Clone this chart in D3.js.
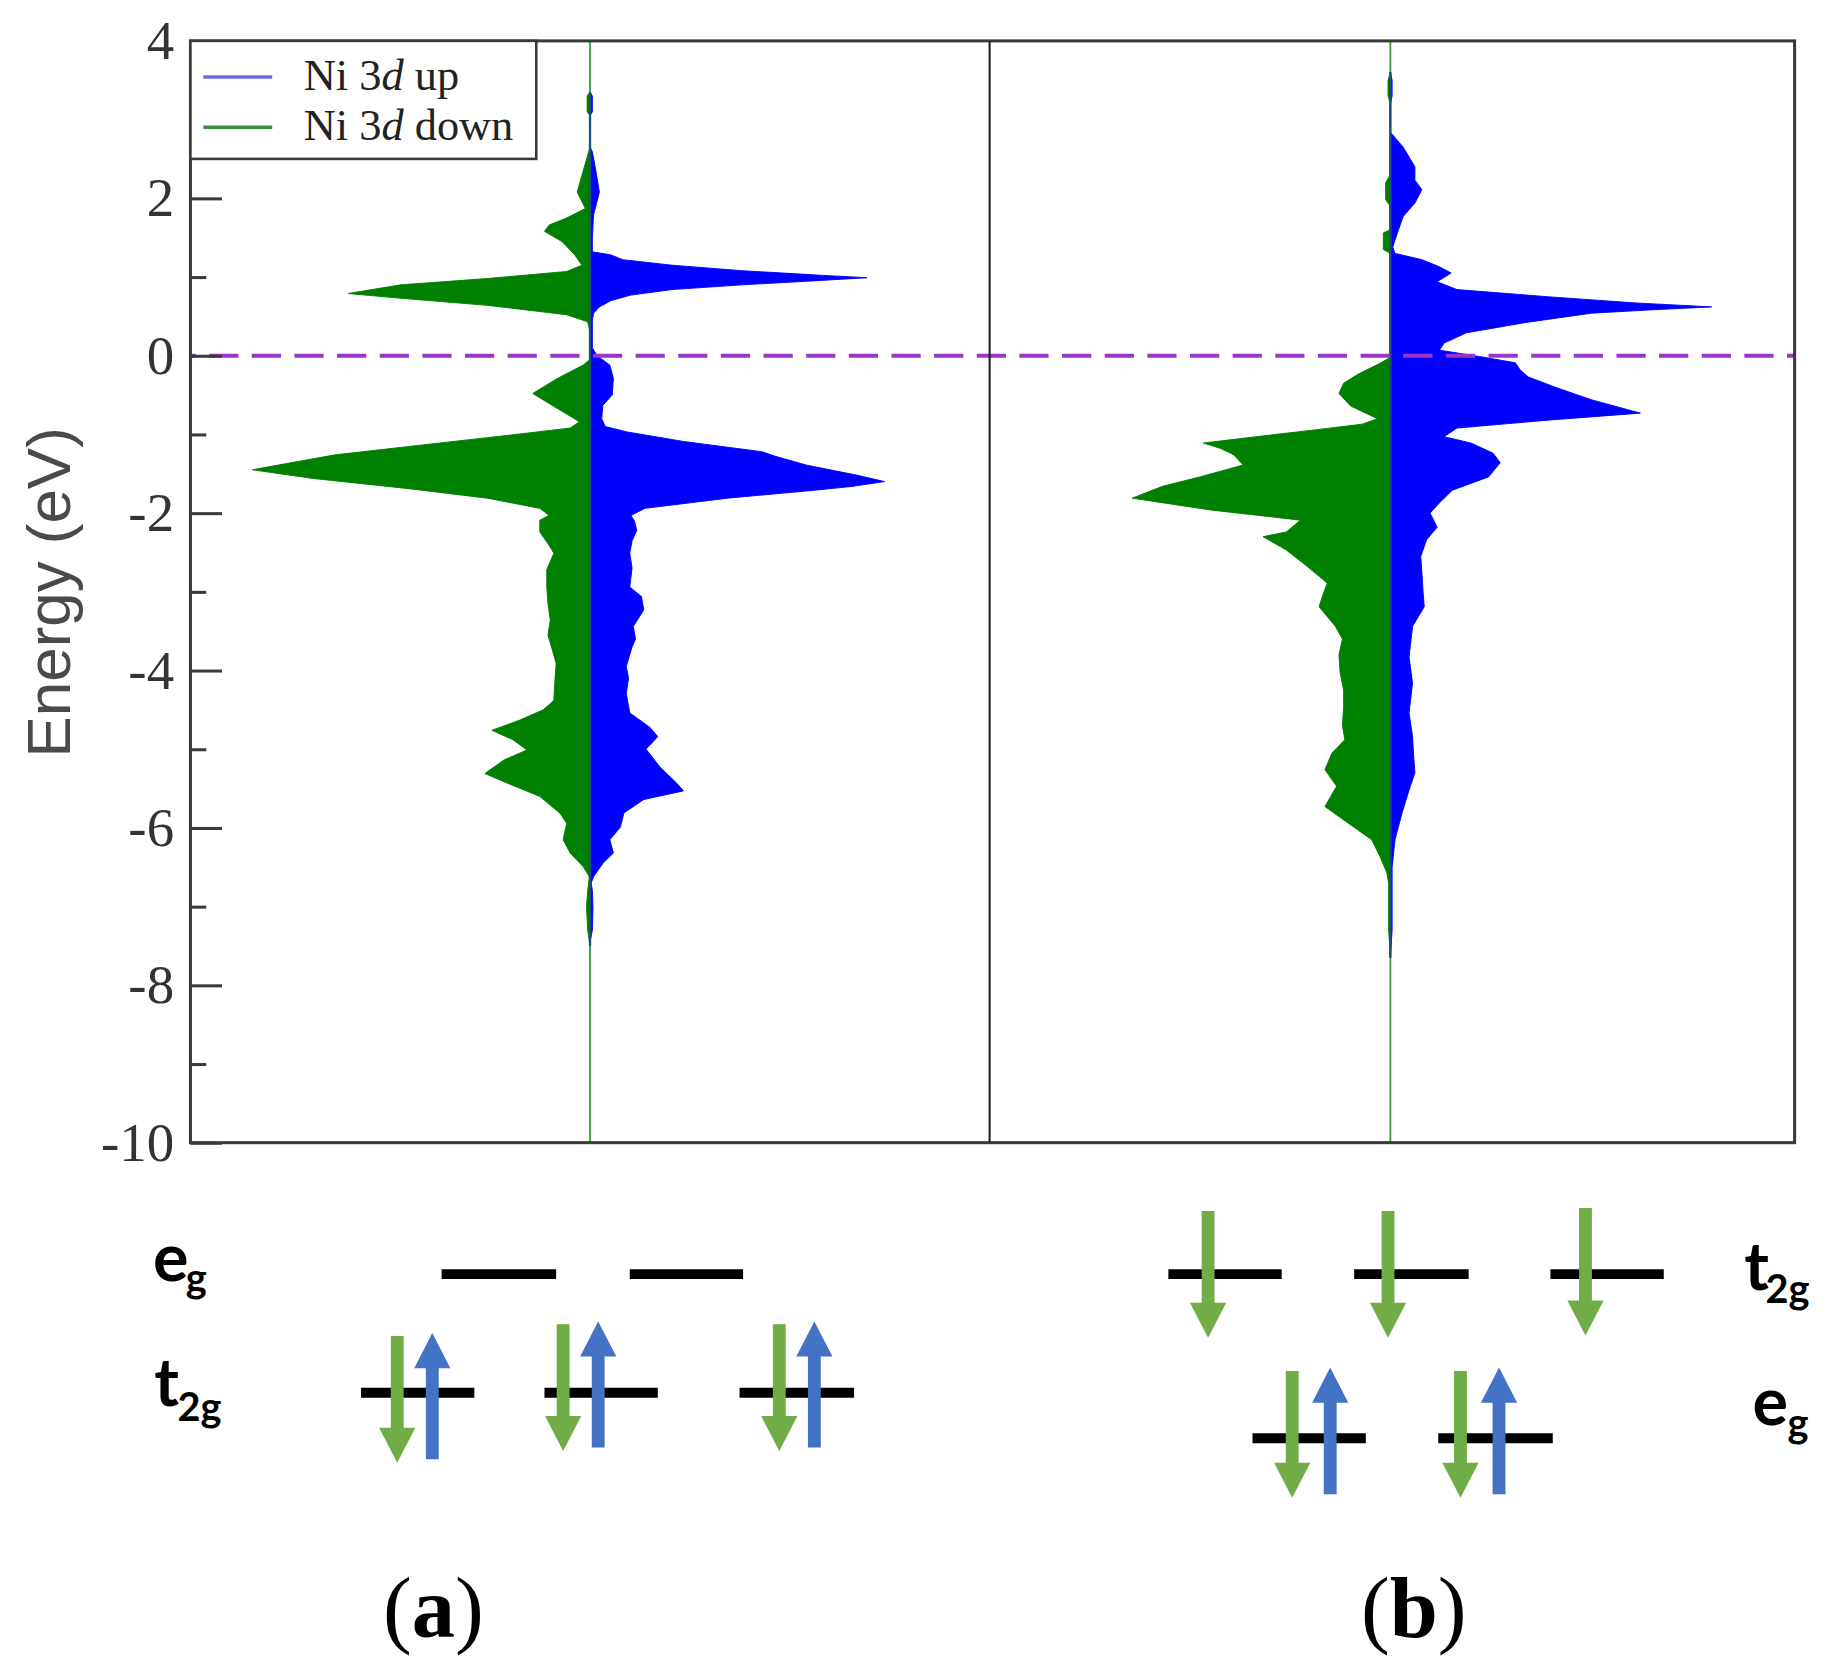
<!DOCTYPE html>
<html><head><meta charset="utf-8">
<script src="https://cdn.jsdelivr.net/npm/d3@7"></script>
<style>html,body{margin:0;padding:0;background:#fff;}svg{display:block;}</style>
</head><body>
<svg id="chart" width="1832" height="1674"></svg>
<script>
// ---------------- data ----------------
const energyTicks = [4, 2, 0, -2, -4, -6, -8, -10];
const minorTicks = [3, 1, -1, -3, -5, -7, -9];
const seriesNames = ["up", "down"];
const panelLabels = ["a", "b"];

// [energy (eV), PDOS (arb. units)]
const panelA_up = [[3.35,0],[3.3,0.2],[3.1,0.2],[3.05,0],
[2.65,0],[2.59,0.2],[2.35,0.5],[2.08,0.8],[1.9,0.5],[1.79,0.3],[1.5,0.2],[1.32,0.2],[1.28,1.8],[1.22,2.8],[1.15,7.0],[1.08,13.0],[1.02,20.0],[0.99,23.7],[0.95,19.0],[0.9,13.0],[0.84,7.0],[0.77,3.5],[0.7,1.8],[0.62,0.8],[0.54,0.3],[0.45,0.2],[0.1,0.2],[0.0,0.6],[-0.12,1.7],[-0.29,2.0],[-0.5,1.9],[-0.63,1.1],[-0.8,1.0],[-0.9,1.3],[-0.97,3.2],[-1.09,8.0],[-1.22,14.7],[-1.28,15.9],[-1.39,18.5],[-1.52,22.9],[-1.6,25.2],[-1.66,22.5],[-1.71,19.2],[-1.81,11.8],[-1.94,4.7],[-2.03,3.5],[-2.1,3.8],[-2.22,4.0],[-2.35,3.6],[-2.51,3.4],[-2.7,3.6],[-2.94,3.4],[-3.06,4.4],[-3.23,4.6],[-3.44,3.7],[-3.6,3.9],[-3.7,3.6],[-3.95,3.1],[-4.1,3.3],[-4.29,3.1],[-4.54,3.4],[-4.72,5.1],[-4.84,5.8],[-5.0,4.8],[-5.23,6.0],[-5.43,7.4],[-5.53,8.0],[-5.64,4.6],[-5.81,2.9],[-5.99,2.6],[-6.15,1.7],[-6.32,2.0],[-6.45,1.1],[-6.62,0.3],[-6.7,0.1],[-6.8,0.2],[-7.0,0.25],[-7.3,0.2],[-7.45,0]];

const panelA_down = [[3.35,0],[3.3,0.25],[3.1,0.25],[3.05,0],
[2.65,0],[2.34,0.6],[2.08,1.1],[1.87,0.4],[1.75,2.0],[1.66,3.5],[1.58,3.9],[1.45,2.4],[1.28,1.3],[1.15,0.7],[1.07,2.0],[0.98,8.8],[0.9,16.2],[0.79,20.7],[0.73,16.2],[0.64,8.8],[0.52,2.0],[0.43,0.2],[0.3,0],[-0.05,0],[-0.12,0.6],[-0.29,2.8],[-0.48,4.9],[-0.67,2.8],[-0.84,0.9],[-0.92,1.7],[-1.01,6.9],[-1.14,14.7],[-1.26,21.8],[-1.39,26.7],[-1.45,28.9],[-1.56,23.7],[-1.69,15.5],[-1.81,8.8],[-1.94,4.3],[-2.03,3.5],[-2.09,4.3],[-2.24,4.3],[-2.41,3.5],[-2.51,3.1],[-2.72,3.7],[-2.94,3.7],[-3.15,3.6],[-3.36,3.4],[-3.55,3.6],[-3.7,3.3],[-3.91,2.9],[-4.12,3.0],[-4.38,3.1],[-4.5,4.0],[-4.63,6.0],[-4.76,8.4],[-4.88,6.6],[-5.01,5.4],[-5.14,7.4],[-5.31,9.0],[-5.43,7.1],[-5.6,4.3],[-5.81,2.6],[-5.94,2.0],[-6.15,2.3],[-6.32,1.7],[-6.49,0.6],[-6.62,0.05],[-6.8,0.2],[-7.0,0.3],[-7.3,0.2],[-7.5,0]];

const panelB_up = [[3.6,0],[3.5,0.15],[3.3,0.15],[3.2,0],
[2.84,0],[2.65,1.1],[2.4,2.1],[2.23,2.1],[2.11,2.7],[1.94,2.1],[1.77,1.1],[1.56,0.6],[1.38,0.2],[1.3,0.4],[1.22,2.7],[1.13,4.2],[1.05,5.2],[0.94,4.0],[0.84,5.7],[0.75,13.4],[0.67,21.0],[0.62,27.5],[0.58,22.0],[0.54,17.2],[0.42,11.5],[0.29,6.5],[0.16,4.6],[0.07,4.2],[-0.01,7.6],[-0.09,10.7],[-0.18,11.1],[-0.27,11.8],[-0.4,14.1],[-0.56,17.2],[-0.73,21.4],[-0.82,13.4],[-0.92,5.7],[-1.03,4.6],[-1.11,6.9],[-1.24,8.8],[-1.36,9.4],[-1.54,8.4],[-1.71,5.3],[-1.87,4.2],[-2.0,3.4],[-2.18,4.0],[-2.34,3.1],[-2.55,2.6],[-2.76,2.7],[-3.0,2.8],[-3.19,2.9],[-3.44,1.9],[-3.83,1.6],[-4.16,1.9],[-4.54,1.6],[-4.84,1.9],[-5.1,2.0],[-5.3,2.1],[-5.52,1.6],[-5.81,1.0],[-6.15,0.4],[-6.5,0.15],[-6.8,0.15],[-7.3,0.15],[-7.65,0]];

const panelB_down = [[3.6,0],[3.5,0.2],[3.3,0.2],[3.2,0],
[2.3,0],[2.2,0.4],[1.98,0.4],[1.9,0],[1.6,0],[1.56,0.6],[1.35,0.6],[1.3,0],[-0.02,0],[-0.09,0.8],[-0.23,2.7],[-0.35,4.0],[-0.48,4.4],[-0.64,3.4],[-0.8,1.1],[-0.87,2.4],[-0.94,6.3],[-1.03,11.5],[-1.11,16.0],[-1.18,14.5],[-1.26,13.4],[-1.39,12.6],[-1.54,16.3],[-1.66,19.5],[-1.81,22.1],[-1.96,15.4],[-2.09,7.7],[-2.24,8.9],[-2.3,10.9],[-2.47,8.9],[-2.68,7.1],[-2.89,5.4],[-3.05,5.8],[-3.19,6.1],[-3.44,4.7],[-3.6,4.1],[-3.8,4.4],[-4.03,4.3],[-4.25,4.0],[-4.46,4.0],[-4.7,4.1],[-4.88,3.9],[-5.05,5.0],[-5.26,5.6],[-5.47,4.6],[-5.73,5.6],[-5.94,3.6],[-6.15,1.6],[-6.36,0.9],[-6.57,0.3],[-6.7,0.15],[-7.3,0.15],[-7.6,0]];

// ---------------- layout (drawn in 1568x1433 units, scaled to 1832x1674) ----------------
const S = 1832 / 1568;
const svg = d3.select("#chart");
const root = svg.append("g").attr("transform", `scale(${S})`);

const plot = {left: 163, right: 1536, top: 35, bottom: 978, split: 847};
const y = d3.scaleLinear().domain([-10, 4]).range([plot.bottom, plot.top]);
const xA = d3.scaleLinear().domain([-34.2, 34.2]).range([plot.left, plot.split]);
const xB = d3.scaleLinear().domain([-34.3, 34.6]).range([plot.split, plot.right]);

const BLUE = "#0000ff", GREEN = "#008000";

function drawPanel(x, up, down) {
  const g = root.append("g");
  g.append("line").attr("x1", x(0)).attr("x2", x(0))
    .attr("y1", plot.top).attr("y2", plot.bottom)
    .attr("stroke", "#3f9f3f").attr("stroke-width", 1.6);
  const areaDown = d3.area().y(d => y(d[0])).x0(x(0)).x1(d => x(-d[1]));
  const areaUp = d3.area().y(d => y(d[0])).x0(x(0)).x1(d => x(d[1]));
  g.append("path").datum(down).attr("d", areaDown).attr("fill", GREEN)
    .attr("stroke", GREEN).attr("stroke-width", 0.8);
  g.append("path").datum(up).attr("d", areaUp).attr("fill", BLUE)
    .attr("stroke", BLUE).attr("stroke-width", 0.8);
  const eAll = up.concat(down).map(d => d[0]);
  g.append("line").attr("x1", x(0)).attr("x2", x(0))
    .attr("y1", y(d3.max(eAll))).attr("y2", y(d3.min(eAll)))
    .attr("stroke", "#1d4f7a").attr("stroke-width", 2);
}
drawPanel(xA, panelA_up, panelA_down);
drawPanel(xB, panelB_up, panelB_down);

// Fermi level
root.append("line").attr("x1", plot.left).attr("x2", plot.right)
  .attr("y1", y(0)).attr("y2", y(0))
  .attr("stroke", "#9b35c8").attr("stroke-width", 3.4)
  .attr("stroke-dasharray", "25 11.5").attr("stroke-dashoffset", -16);

// frame + divider
root.append("rect").attr("x", plot.left).attr("y", plot.top)
  .attr("width", plot.right - plot.left).attr("height", plot.bottom - plot.top)
  .attr("fill", "none").attr("stroke", "#3a3a3a").attr("stroke-width", 2.6);
root.append("line").attr("x1", plot.split).attr("x2", plot.split)
  .attr("y1", plot.top).attr("y2", plot.bottom)
  .attr("stroke", "#222").attr("stroke-width", 1.8);

// y axis
const axG = root.append("g").attr("transform", `translate(${plot.left},0)`)
  .call(d3.axisLeft(y).tickValues(energyTicks).tickSize(-27).tickPadding(14)
    .tickFormat(d => String(d)));
axG.select(".domain").remove();
axG.selectAll(".tick line").attr("stroke", "#3a3a3a").attr("stroke-width", 2.6);
axG.selectAll(".tick text").attr("fill", "#333")
  .style("font-family", "'Liberation Serif', 'Times New Roman', serif").style("font-size", "47px");
const axM = root.append("g").attr("transform", `translate(${plot.left},0)`)
  .call(d3.axisLeft(y).tickValues(minorTicks).tickSize(-13.5).tickFormat(""));
axM.select(".domain").remove();
axM.selectAll(".tick line").attr("stroke", "#3a3a3a").attr("stroke-width", 2.6);

root.append("text").attr("transform", "translate(60,507) rotate(-90)")
  .attr("text-anchor", "middle").attr("fill", "#4a4a4a")
  .style("font-family", "'Liberation Sans', Arial, sans-serif").style("font-size", "53px")
  .text("Energy (eV)");

// legend
const lg = root.append("g");
lg.append("rect").attr("x", plot.left).attr("y", plot.top).attr("width", 296).attr("height", 101)
  .attr("fill", "#fff").attr("stroke", "#3a3a3a").attr("stroke-width", 2.2);
const legendColors = ["#6a6af0", "#3b8f3b"];
seriesNames.forEach((s, i) => {
  const yy = 66 + i * 43;
  lg.append("line").attr("x1", 174).attr("x2", 233).attr("y1", yy).attr("y2", yy)
    .attr("stroke", legendColors[i]).attr("stroke-width", 3);
  const t = lg.append("text").attr("x", 260).attr("y", yy + 11).attr("fill", "#222")
    .style("font-family", "'Liberation Serif', 'Times New Roman', serif").style("font-size", "38px");
  t.append("tspan").text("Ni 3");
  t.append("tspan").style("font-style", "italic").text("d");
  t.append("tspan").text(" " + s);
});

// ---------------- crystal-field schematic ----------------
const sch = root.append("g");
const ARROW_GREEN = "#70ad47", ARROW_BLUE = "#4472c4";
function level(x1, x2, yy) {
  sch.append("line").attr("x1", x1).attr("x2", x2).attr("y1", yy).attr("y2", yy)
    .attr("stroke", "#000").attr("stroke-width", 8.5);
}
function arrow(x, yTail, yTip, color) {
  const dir = yTip > yTail ? 1 : -1;
  const sw = 5.5, hw = 15.5, hl = 30;
  const yb = yTip - dir * hl;
  const p = d3.path();
  p.moveTo(x - sw, yTail); p.lineTo(x + sw, yTail); p.lineTo(x + sw, yb);
  p.lineTo(x + hw, yb); p.lineTo(x, yTip); p.lineTo(x - hw, yb);
  p.lineTo(x - sw, yb); p.closePath();
  sch.append("path").attr("d", p.toString()).attr("fill", color);
}
function label(x, yb, main, sub, subX, subY) {
  sch.append("text").attr("x", x).attr("y", yb).text(main)
    .style("font-family", "Lato, 'Open Sans', sans-serif").style("font-weight", "bold").style("font-size", "57px");
  sch.append("text").attr("x", subX).attr("y", subY).text(sub)
    .style("font-family", "Lato, 'Open Sans', sans-serif").style("font-weight", "bold").style("font-size", "34px");
}
// panel (a): t2g below, eg above
level(378, 476, 1090.5); level(539, 636, 1090.5);
level(309, 406, 1192); level(466, 563, 1192); level(633, 731, 1192);
arrow(340, 1143.5, 1252, ARROW_GREEN); arrow(370, 1249, 1141, ARROW_BLUE);
arrow(482, 1133.5, 1242, ARROW_GREEN); arrow(512, 1239, 1131, ARROW_BLUE);
arrow(667, 1133.5, 1242, ARROW_GREEN); arrow(697, 1239, 1131, ARROW_BLUE);
label(131, 1096, "e", "g", 159, 1106);
label(132, 1203, "t", "2g", 152, 1216);
// panel (b): eg below, t2g above
level(1000, 1097, 1090.5); level(1159, 1257, 1090.5); level(1327, 1424, 1090.5);
arrow(1034, 1036.5, 1145, ARROW_GREEN); arrow(1188, 1036.5, 1145, ARROW_GREEN); arrow(1357, 1034, 1143, ARROW_GREEN);
level(1072, 1169, 1231); level(1231, 1329, 1231);
arrow(1106, 1173.5, 1282, ARROW_GREEN); arrow(1138.5, 1279, 1170.5, ARROW_BLUE);
arrow(1250, 1173.5, 1282, ARROW_GREEN); arrow(1283, 1279, 1170.5, ARROW_BLUE);
label(1493, 1104, "t", "2g", 1511, 1115);
label(1500, 1220, "e", "g", 1530, 1230);

// panel captions
[371, 1210].forEach((cx, i) => {
  const t = sch.append("text").attr("x", cx).attr("y", 1401).attr("text-anchor", "middle")
    .style("font-family", "'Liberation Serif', 'Times New Roman', serif").style("font-size", "74px");
  t.append("tspan").text("(");
  t.append("tspan").style("font-weight", "bold").text(panelLabels[i]);
  t.append("tspan").text(")");
});
</script>
</body></html>
